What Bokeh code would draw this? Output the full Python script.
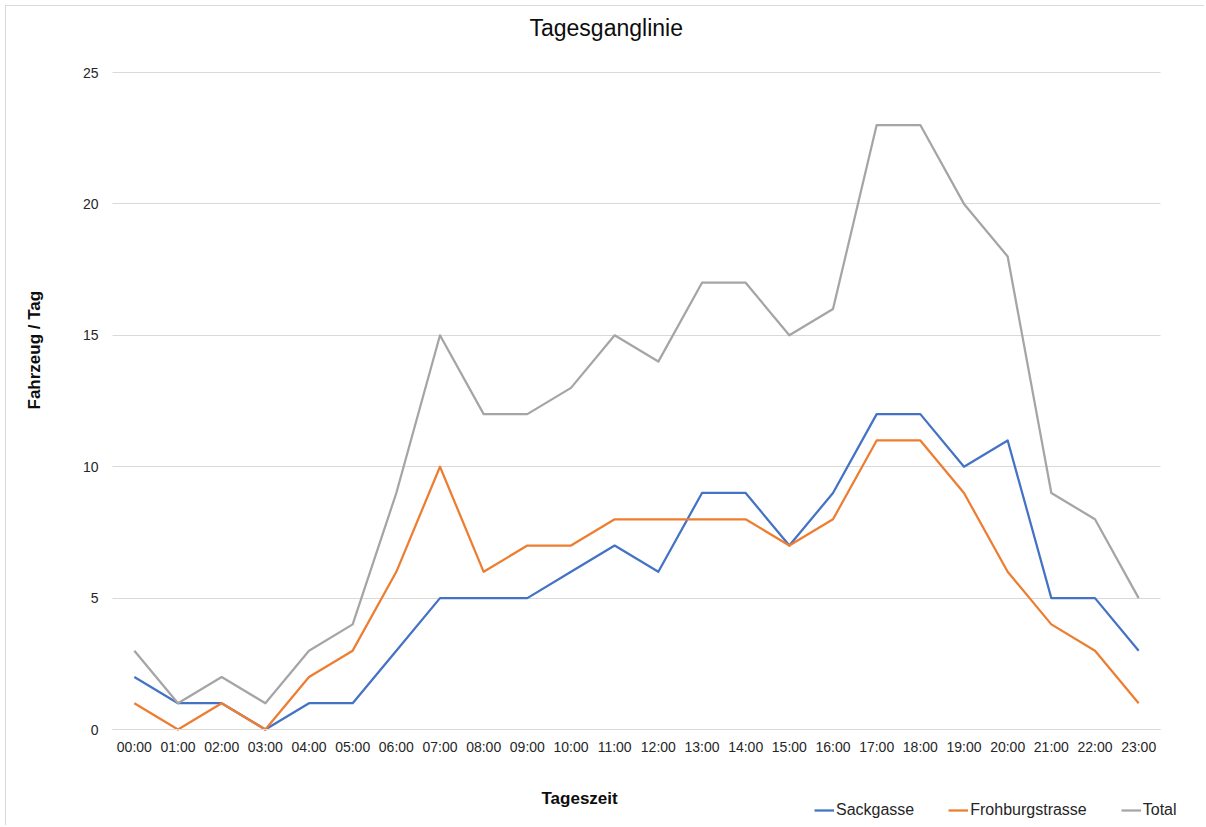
from bokeh.plotting import figure
from bokeh.models import (ColumnDataSource, FactorRange, Range1d, FixedTicker,
                          Title, Label, Legend, LegendItem)
from bokeh.embed import file_html
from bokeh.resources import INLINE

# ---- data ----
hours = ["00:00", "01:00", "02:00", "03:00", "04:00", "05:00", "06:00", "07:00",
         "08:00", "09:00", "10:00", "11:00", "12:00", "13:00", "14:00", "15:00",
         "16:00", "17:00", "18:00", "19:00", "20:00", "21:00", "22:00", "23:00"]
sackgasse = [2, 1, 1, 0, 1, 1, 3, 5, 5, 5, 6, 7, 6, 9, 9, 7, 9, 12, 12, 10, 11, 5, 5, 3]
frohburgstrasse = [1, 0, 1, 0, 2, 3, 6, 10, 6, 7, 7, 8, 8, 8, 8, 7, 8, 11, 11, 9, 6, 4, 3, 1]
total = [3, 1, 2, 1, 3, 4, 9, 15, 12, 12, 13, 15, 14, 17, 17, 15, 16, 23, 23, 20, 18, 9, 8, 5]
y_ticks = [0, 5, 10, 15, 20, 25]
series_names = ["Sackgasse", "Frohburgstrasse", "Total"]
series_colors = ["#4472C4", "#ED7D31", "#A5A5A5"]

FONT = "Liberation Sans"
TEXT = "#262626"
TITLE = "#0d0d0d"

src = ColumnDataSource(dict(h=hours, s=sackgasse, f=frohburgstrasse, t=total))

n_cat = len(hours)
# the plot area is a little larger than the category band and the value range
# extends past 0..25, so tick labels, axis title and legend sit inside it
x_range = FactorRange(*hours, range_padding=0.068702)
p = figure(x_range=x_range, y_range=Range1d(-3.691, 25.457), title=None,
           width=1199, height=820, output_backend="svg", toolbar_location=None,
           min_border_left=70, min_border_right=9, min_border_top=54,
           min_border_bottom=0)
p.styles = {"margin-left": "5px", "margin-top": "5px",
            "border-left": "1px solid #d9d9d9", "border-top": "1px solid #d9d9d9"}
p.outline_line_color = None
p.background_fill_color = "white"
p.border_fill_color = "white"

# axes
p.yaxis.fixed_location = 0
p.yaxis.ticker = FixedTicker(ticks=y_ticks)
p.yaxis.axis_line_color = None
p.yaxis.major_tick_line_color = None
p.yaxis.minor_tick_line_color = None
p.yaxis.major_tick_out = 0
p.yaxis.major_tick_in = 0
p.yaxis.major_label_standoff = 14
p.yaxis.major_label_text_font = FONT
p.yaxis.major_label_text_font_size = "14px"
p.yaxis.major_label_text_color = TEXT

p.xaxis.fixed_location = 0
p.xaxis.bounds = (0, n_cat)
p.xaxis.axis_line_color = "#d9d9d9"
p.xaxis.axis_line_width = 1
p.xaxis.major_tick_line_color = None
p.xaxis.minor_tick_line_color = None
p.xaxis.major_tick_out = 0
p.xaxis.major_tick_in = 0
p.xaxis.major_label_standoff = 9
p.xaxis.major_label_text_font = FONT
p.xaxis.major_label_text_font_size = "14px"
p.xaxis.major_label_text_color = TEXT

p.xgrid.grid_line_color = None
p.ygrid.grid_line_color = "#d9d9d9"
p.ygrid.grid_line_width = 1
p.ygrid.cross_bounds = (0, n_cat)

# lines
renderers = []
for col, color in zip(["s", "f", "t"], series_colors):
    r = p.line(x="h", y=col, source=src, line_color=color, line_width=2.25,
               line_join="round")
    renderers.append(r)


def spacer(size):
    return Title(text=" ", text_font_size="1px", standoff=size - 3)


# above: spacer next to the frame, then the chart title
p.add_layout(spacer(20), "above")
p.add_layout(Title(text="Tagesganglinie", align="left", offset=453, standoff=0,
                   vertical_align="bottom", text_font=FONT, text_font_size="23px",
                   text_font_style="normal", text_color=TITLE), "above")

# left: spacer, axis title
p.add_layout(spacer(33), "left")
p.add_layout(Title(text="Fahrzeug / Tag", align="left", offset=417, standoff=0,
                   vertical_align="bottom", text_font=FONT, text_font_size="17px",
                   text_font_style="bold", text_color=TITLE), "left")

# x axis title
p.add_layout(Label(x=465, y=28, x_units="screen", y_units="screen",
                   text="Tageszeit", text_font=FONT, text_font_size="17px",
                   text_font_style="bold", text_color=TITLE,
                   text_align="left", text_baseline="alphabetic"))

legend = Legend(items=[LegendItem(label=n, renderers=[r]) for n, r in zip(series_names, renderers)],
                orientation="horizontal", location=(738, 7),
                padding=0, margin=0, spacing=34, label_standoff=2,
                glyph_width=20, glyph_height=16, label_height=16,
                label_text_font=FONT, label_text_font_size="16px",
                label_text_color=TEXT, border_line_color=None,
                background_fill_alpha=0)
p.add_layout(legend)

open("out.html", "w").write(file_html(p, INLINE))
